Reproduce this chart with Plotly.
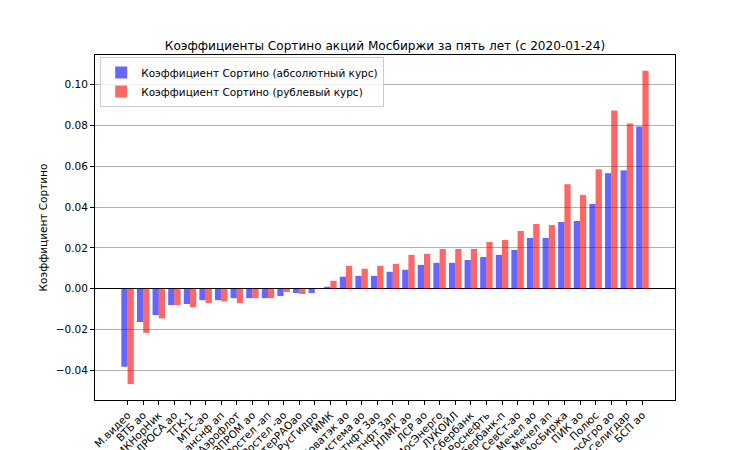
import plotly.graph_objects as go

# тикеры в порядке возрастания коэффициента
tickers = [
    "М.видео", "ВТБ ао", "ГМКНорНик", "АЛРОСА ао", "ТГК-1", "МТС-ао",
    "Транснф ап", "Аэрофлот", "ГАЗПРОМ ао", "Ростел -ап", "Ростел -ао",
    "ИнтерРАОао", "РусГидро", "ММК", "Новатэк ао", "Система ао",
    "Татнфт 3ао", "Татнфт 3ап", "НЛМК ао", "ЛСР ао", "МосЭнерго", "ЛУКОЙЛ",
    "Сбербанк", "Роснефть", "Сбербанк-п", "СевСт-ао", "Мечел ао", "Мечел ап",
    "МосБиржа", "ПИК ао", "Полюс", "ФосАгро ао", "Селигдар", "БСП ао",
]

# коэффициент Сортино (абсолютный курс)
sortino_abs = [
    -0.0382, -0.0163, -0.0129, -0.0080, -0.0075, -0.0056,
    -0.0056, -0.0046, -0.0046, -0.0046, -0.0036,
    -0.0021, -0.0021, 0.0010, 0.0059, 0.0063,
    0.0063, 0.0083, 0.0093, 0.0117, 0.0127, 0.0127,
    0.0141, 0.0156, 0.0166, 0.0190, 0.0249, 0.0249,
    0.0327, 0.0332, 0.0415, 0.0566, 0.0580, 0.0795,
]

# коэффициент Сортино (рублевый курс)
sortino_rub = [
    -0.0467, -0.0216, -0.0145, -0.0080, -0.0090, -0.0070,
    -0.0062, -0.0070, -0.0046, -0.0046, -0.0016,
    -0.0026, -0.0002, 0.0039, 0.0112, 0.0098,
    0.0112, 0.0122, 0.0166, 0.0171, 0.0195, 0.0195,
    0.0195, 0.0229, 0.0239, 0.0283, 0.0317, 0.0312,
    0.0512, 0.0459, 0.0585, 0.0873, 0.0810, 0.1068,
]

font = "DejaVu Sans"

fig = go.Figure()
fig.add_trace(go.Bar(
    x=tickers, y=sortino_abs,
    name="Коэффициент Сортино (абсолютный курс)",
    marker=dict(color="rgba(0,0,255,0.6)", line=dict(width=0)),
))
fig.add_trace(go.Bar(
    x=tickers, y=sortino_rub,
    name="Коэффициент Сортино (рублевый курс)",
    marker=dict(color="rgba(255,0,0,0.6)", line=dict(width=0)),
))

# страница html добавляет отступ 8px, поэтому поля сдвинуты
fig.update_layout(
    width=750, height=450,
    margin=dict(l=87, r=83, t=47, b=58),
    paper_bgcolor="white", plot_bgcolor="white",
    font=dict(family=font, size=10.5, color="black"),
    barmode="group", bargap=0.2, bargroupgap=0,
    title=dict(
        text="Коэффициенты Сортино акций Мосбиржи за пять лет (с 2020-01-24)",
        x=0.5, xref="paper", xanchor="center",
        y=1, yref="paper", yanchor="bottom", pad=dict(b=5),
        font=dict(size=12.1, family=font, color="black"),
    ),
    legend=dict(
        x=0.009, y=0.994, xanchor="left", yanchor="top",
        bgcolor="rgba(255,255,255,0.8)", bordercolor="#cccccc", borderwidth=1,
        font=dict(size=10.5, family=font), tracegroupgap=0,
        itemwidth=30,
    ),
)

fig.update_xaxes(
    type="category", range=[-2.09, 35.09],
    tickangle=-45, automargin=False,
    showline=True, mirror=True, linecolor="black", linewidth=1,
    ticks="outside", ticklen=4, tickcolor="black",
    showgrid=False,
)
fig.update_yaxes(
    range=[-0.0545, 0.1145], dtick=0.02, tickformat=".2f",
    showline=True, mirror=True, linecolor="black", linewidth=1,
    ticks="outside", ticklen=4, tickcolor="black",
    showgrid=True, gridcolor="#b0b0b0", gridwidth=1,
    zeroline=True, zerolinecolor="black", zerolinewidth=1,
    title=dict(text="Коэффициент Сортино", standoff=6,
               font=dict(size=10.5, family=font)),
)

fig.write_html("out.html")
